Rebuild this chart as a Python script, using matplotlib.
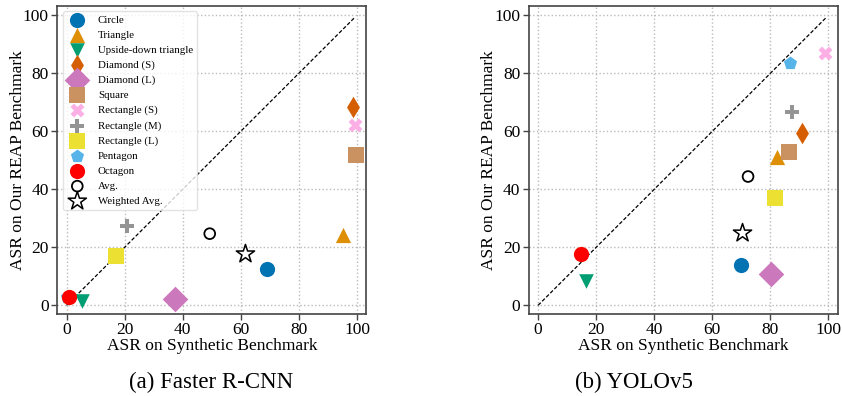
import numpy as np
import matplotlib.pyplot as plt

plt.rcParams['font.family'] = ['Liberation Serif', 'DejaVu Serif']
plt.rcParams['mathtext.fontset'] = 'stix'

# shape names, markers and colours (seaborn colorblind palette)
shapes = ["Circle", "Triangle", "Upside-down triangle", "Diamond (S)", "Diamond (L)",
          "Square", "Rectangle (S)", "Rectangle (M)", "Rectangle (L)", "Pentagon", "Octagon"]
markers = ["o", "^", "v", "d", "D", "s", "X", "P", "s", "p", "o"]
colors = ["#0173B2", "#DE8F05", "#029E73", "#D55E00", "#CC78BC",
          "#CA9161", "#FBAFE4", "#949494", "#ECE133", "#56B4E9", "#FF0000"]
sizes = [120, 120, 110, 120, 170, 140, 100, 100, 140, 100, 120]

# (a) Faster R-CNN
frcnn_syn = [69.0, 95.1, 5.2, 98.6, 37.2, 99.8, 99.4, 20.9, 16.9, 0.0, 0.8]
frcnn_reap = [12.5, 24.3, 1.4, 68.3, 2.2, 51.9, 62.0, 27.4, 16.9, 3.0, 2.8]
frcnn_avg = (49.3, 24.7)
frcnn_wavg = (61.6, 17.7)

# (b) YOLOv5
yolo_syn = [69.8, 82.4, 16.6, 90.8, 80.1, 86.5, 98.7, 87.5, 81.6, 86.7, 14.9]
yolo_reap = [14.0, 51.3, 8.3, 59.5, 10.9, 52.9, 86.9, 66.6, 36.9, 83.5, 17.8]
yolo_avg = (72.3, 44.4)
yolo_wavg = (70.4, 24.9)


def draw_panel(ax, syn, reap, avg, wavg, legend=False):
    ax.plot([0, 99], [0, 99], ls="--", dashes=(3, 1.6), color="black", lw=0.9, zorder=2)
    for i in range(len(shapes)):
        ax.scatter(syn[i], reap[i], s=sizes[i], marker=markers[i], c=colors[i],
                   label=shapes[i], zorder=3, linewidths=0)
    ax.scatter(avg[0], avg[1], s=60, marker="o", facecolors="none",
               edgecolors="black", linewidths=1.3, label="Avg.", zorder=3)
    ax.scatter(wavg[0], wavg[1], s=190, marker="*", facecolors="none",
               edgecolors="black", linewidths=1.1, label="Weighted Avg.", zorder=3)
    ax.set_xlim(-3.2, 103.2)
    ax.set_ylim(-3.0, 103.2)
    ax.set_xticks([0, 20, 40, 60, 80, 100])
    ax.set_yticks([0, 20, 40, 60, 80, 100])
    ax.grid(True, ls=":", color="#bbbbbb", lw=1.0)
    ax.set_axisbelow(True)
    for sp in ax.spines.values():
        sp.set_color("#444444")
        sp.set_linewidth(1.2)
    ax.tick_params(labelsize=12.5, color="#444444", length=4, width=1, pad=2)
    ax.set_xlabel("ASR on Synthetic Benchmark", fontsize=12.5, labelpad=0)
    ax.set_ylabel("ASR on Our REAP Benchmark", fontsize=12.5, labelpad=-2)
    if legend:
        ax.legend(loc="upper left", fontsize=7.8, frameon=True, edgecolor="#dddddd",
                  labelspacing=0.5, handletextpad=0.9, borderpad=0.35,
                  bbox_to_anchor=(0.0, 1.0), scatterpoints=1)


fig = plt.figure(figsize=(8.42, 3.96), dpi=100)
ax1 = fig.add_axes([0.068, 0.207, 0.367, 0.778])
ax2 = fig.add_axes([0.628, 0.207, 0.367, 0.778])

draw_panel(ax1, frcnn_syn, frcnn_reap, frcnn_avg, frcnn_wavg, legend=True)
draw_panel(ax2, yolo_syn, yolo_reap, yolo_avg, yolo_wavg)

fig.text(0.251, 0.02, "(a) Faster R-CNN", ha="center", fontsize=16.5)
fig.text(0.753, 0.02, "(b) YOLOv5", ha="center", fontsize=16.5)

fig.savefig("out.png", dpi=100)
